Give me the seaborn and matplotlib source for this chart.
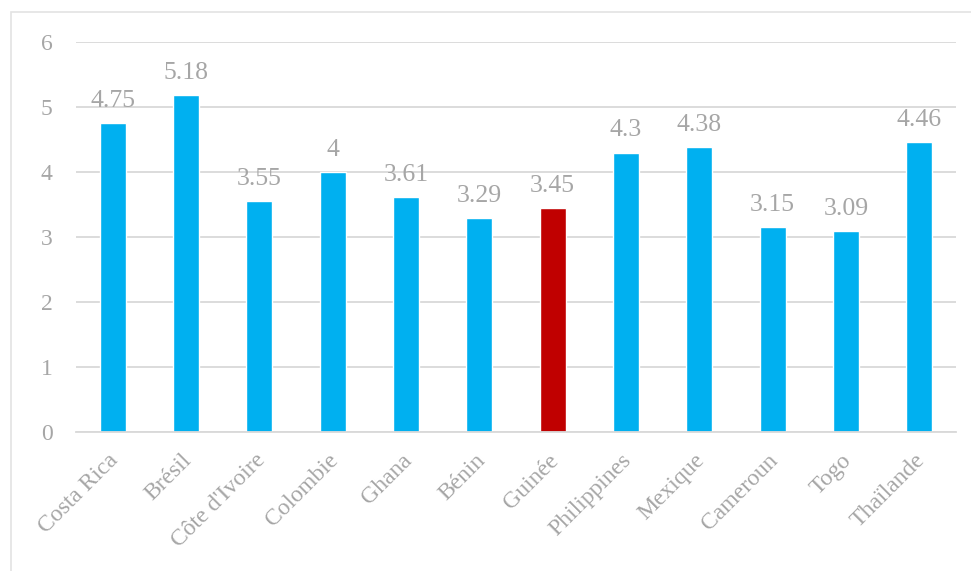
import matplotlib
matplotlib.use("Agg")
import matplotlib.pyplot as plt
import matplotlib.transforms as mtransforms
import seaborn as sns
import pandas as pd
from matplotlib.patches import Rectangle

countries = ["Costa Rica", "Brésil", "Côte d'Ivoire", "Colombie", "Ghana", "Bénin",
             "Guinée", "Philippines", "Mexique", "Cameroun", "Togo", "Thaïlande"]
values = [4.75, 5.18, 3.55, 4.0, 3.61, 3.29, 3.45, 4.3, 4.38, 3.15, 3.09, 4.46]
value_labels = ["4.75", "5.18", "3.55", "4", "3.61", "3.29", "3.45", "4.3", "4.38", "3.15", "3.09", "4.46"]
highlight = "Guinée"

blue = "#00B0F0"
red = "#C00000"
text_gray = "#A6A6A6"
grid_gray = "#D9D9D9"

sns.set_theme(style="white")
plt.rcParams["font.family"] = ["Liberation Serif", "DejaVu Serif"]

df = pd.DataFrame({"country": countries, "value": values})
palette = {c: (red if c == highlight else blue) for c in countries}

fig = plt.figure(figsize=(9.71, 5.71), dpi=100)
ax = fig.add_axes([76 / 971, 1 - 432 / 571, 880 / 971, 390 / 571])

sns.barplot(data=df, x="country", y="value", hue="country", palette=palette,
            legend=False, width=0.355, saturation=1, ax=ax, zorder=3)

ax.set_ylim(0, 6)
ax.set_yticks(range(0, 7))
ax.set_xlim(-0.5, len(countries) - 0.5)
ax.yaxis.grid(True, color=grid_gray, linewidth=1.3, zorder=0)
ax.xaxis.grid(False)
for side in ["top", "right", "left"]:
    ax.spines[side].set_visible(False)
ax.spines["bottom"].set_color(grid_gray)
ax.spines["bottom"].set_linewidth(1.3)
ax.spines["bottom"].set_zorder(4)

ax.set_xlabel("")
ax.set_ylabel("")
ax.tick_params(axis="y", length=0, pad=17, labelsize=17, labelcolor=text_gray)
ax.tick_params(axis="x", length=0, pad=13, labelsize=17, labelcolor=text_gray)
ax.set_xticks(range(len(countries)))
ax.set_xticklabels(countries, rotation=45, ha="right", va="top", rotation_mode="anchor")
shift = mtransforms.ScaledTranslation(-5 / 100, 0, fig.dpi_scale_trans)
for lbl in ax.get_xticklabels():
    lbl.set_transform(lbl.get_transform() + shift)

for i, (v, lab) in enumerate(zip(values, value_labels)):
    ax.annotate(lab, (i, v), xytext=(0, 8), textcoords="offset points",
                ha="center", va="bottom", fontsize=18.5, color=text_gray)

# outer chart frame
fig.patches.append(Rectangle((11 / 971, -0.1), 1.1, 1 - 12 / 571 + 0.1,
                             transform=fig.transFigure, fill=False,
                             edgecolor="#E3E3E3", linewidth=1.2))

fig.savefig("out.png", dpi=100, facecolor="white")
